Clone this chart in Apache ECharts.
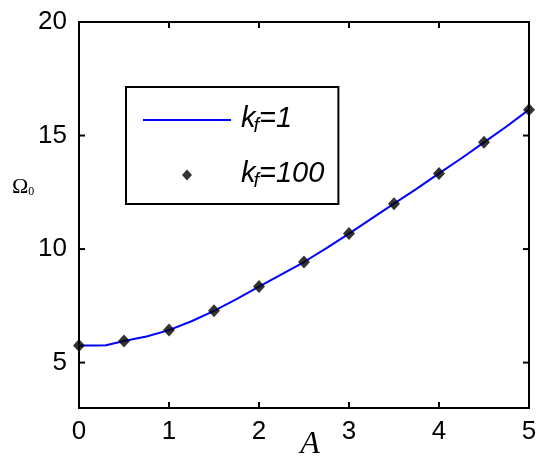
<!DOCTYPE html>
<html>
<head>
<meta charset="utf-8">
<script src="https://cdn.jsdelivr.net/npm/echarts@6/dist/echarts.min.js"></script>
<style>
html,body{margin:0;padding:0;background:#fff;}
#c{width:550px;height:469px;}
</style>
</head>
<body>
<div id="c"></div>
<script>
// Data
var lineA = [0, 0.1, 0.2, 0.3, 0.5, 0.75, 1, 1.25, 1.5, 1.75, 2, 2.25, 2.5, 2.75, 3, 3.25, 3.5, 3.75, 4, 4.25, 4.5, 4.75, 5];
var lineOmega = [5.75, 5.75, 5.75, 5.76, 5.95, 6.15, 6.43, 6.82, 7.28, 7.8, 8.35, 8.88, 9.43, 10.04, 10.68, 11.34, 12.0, 12.65, 13.33, 14.0, 14.7, 15.4, 16.14];
var dotA = [0, 0.5, 1, 1.5, 2, 2.5, 3, 3.5, 4, 4.5, 5];
var dotOmega = [5.75, 5.95, 6.43, 7.28, 8.35, 9.43, 10.68, 12.0, 13.33, 14.7, 16.14];
var yTicks = [5, 10, 15, 20];
var xTicks = [0, 1, 2, 3, 4, 5];
var xRange = [0, 5];
var yRange = [3, 20];

var sans = "'Liberation Sans', Arial, sans-serif";
var serif = "'Liberation Serif', 'Times New Roman', serif";

function pairs(xs, ys) { return xs.map(function (x, i) { return [x, ys[i]]; }); }

var legendRich = {
  k: { fontFamily: sans, fontStyle: 'italic', fontSize: 29, lineHeight: 32, verticalAlign: 'top', color: '#000', padding: [0, 0, 0, 5] },
  f: { fontFamily: sans, fontStyle: 'italic', fontSize: 20, lineHeight: 20, verticalAlign: 'bottom', color: '#000', padding: [18, 0, 0, -2] },
  e: { fontFamily: sans, fontStyle: 'italic', fontSize: 29, lineHeight: 32, verticalAlign: 'top', color: '#000' }
};

var axisLineStyle = { color: '#000', width: 2 };

var chart = echarts.init(document.getElementById('c'), null, { renderer: 'canvas' });
chart.setOption({
  backgroundColor: '#fff',
  animation: false,
  grid: { left: 79, top: 22, right: 21, bottom: 61, containLabel: false, outerBoundsMode: 'none',
    show: true, borderColor: '#000', borderWidth: 2, backgroundColor: 'transparent' },
  xAxis: [{
    type: 'value', min: xRange[0], max: xRange[1], interval: 1, position: 'bottom',
    name: 'A', nameLocation: 'middle', nameGap: 21, nameMoveOverlap: false,
    nameTextStyle: { fontFamily: serif, fontStyle: 'italic', fontSize: 32, color: '#000', padding: [0, 0, 0, 12] },
    axisLine: { show: true, lineStyle: axisLineStyle },
    axisTick: { show: false },
    axisLabel: { show: true, margin: 11, fontFamily: sans, fontSize: 26, color: '#000' },
    splitLine: { show: false }
  }, {
    type: 'value', min: xRange[0], max: xRange[1], interval: 1, position: 'top',
    axisLine: { show: true, lineStyle: axisLineStyle },
    axisTick: { show: false },
    axisLabel: { show: false },
    splitLine: { show: false }
  }],
  yAxis: [{
    type: 'value', min: yRange[0], max: yRange[1], position: 'left',
    axisLine: { show: true, lineStyle: axisLineStyle },
    axisTick: { show: false },
    axisLabel: { show: true, margin: 12, fontFamily: sans, fontSize: 26, color: '#000', customValues: yTicks },
    splitLine: { show: false }
  }, {
    type: 'value', min: yRange[0], max: yRange[1], position: 'right',
    axisLine: { show: true, lineStyle: axisLineStyle },
    axisTick: { show: false },
    axisLabel: { show: false },
    splitLine: { show: false }
  }],
  legend: {
    orient: 'vertical',
    left: 126, top: 87,
    padding: [11, 14, 13, 17],
    itemWidth: 88, itemHeight: 11, itemGap: 17, itemTextGap: 22,
    backgroundColor: '#fff',
    borderColor: '#000', borderWidth: 2, borderRadius: 0,
    data: [
      { name: 'kf1', icon: 'path://M0 0 H100 V2.4 H0 Z' },
      { name: 'kf100', icon: 'path://M5 0 L10 5.5 L5 11 L0 5.5 Z' }
    ],
    formatter: function (name) {
      return name === 'kf1' ? '{k|k}{f|f}{e|=1}' : '{k|k}{f|f}{e|=100}';
    },
    textStyle: { rich: legendRich }
  },
  series: [{
    name: 'kf1', type: 'line', xAxisIndex: 0, yAxisIndex: 0,
    data: pairs(lineA, lineOmega),
    symbol: 'none', smooth: false,
    lineStyle: { color: '#0000ff', width: 2 },
    itemStyle: { color: '#0000ff' },
    z: 2
  }, {
    name: 'kf100', type: 'scatter', xAxisIndex: 0, yAxisIndex: 0,
    data: pairs(dotA, dotOmega),
    symbol: 'diamond', symbolSize: [12, 13],
    itemStyle: { color: '#000' },
    clip: false,
    z: 3
  }]
});

// inward tick marks on all four frame sides, placed through the chart's own axis scales
var TICK = 6;
var graphics = [{
  type: 'text', left: 12, top: 176, z: 100,
  style: {
    text: '{o|Ω}{s|0}',
    rich: {
      o: { fontFamily: serif, fontSize: 22, lineHeight: 26, fill: '#000', verticalAlign: 'bottom' },
      s: { fontFamily: serif, fontSize: 12, lineHeight: 12, fill: '#000', verticalAlign: 'bottom' }
    }
  }
}];
function tickLine(p, dx, dy) {
  return {
    type: 'line', z: 100, silent: true,
    shape: { x1: p[0], y1: p[1], x2: p[0] + dx * TICK, y2: p[1] + dy * TICK },
    style: { stroke: '#000', lineWidth: 2 }
  };
}
xTicks.forEach(function (v) {
  var b = chart.convertToPixel({ gridIndex: 0 }, [v, yRange[0]]);
  var t = chart.convertToPixel({ gridIndex: 0 }, [v, yRange[1]]);
  graphics.push(tickLine(b, 0, -1));
  graphics.push(tickLine(t, 0, 1));
});
yTicks.forEach(function (v) {
  var l = chart.convertToPixel({ gridIndex: 0 }, [xRange[0], v]);
  var r = chart.convertToPixel({ gridIndex: 0 }, [xRange[1], v]);
  graphics.push(tickLine(l, 1, 0));
  graphics.push(tickLine(r, -1, 0));
});
chart.setOption({ graphic: graphics });
</script>
</body>
</html>
